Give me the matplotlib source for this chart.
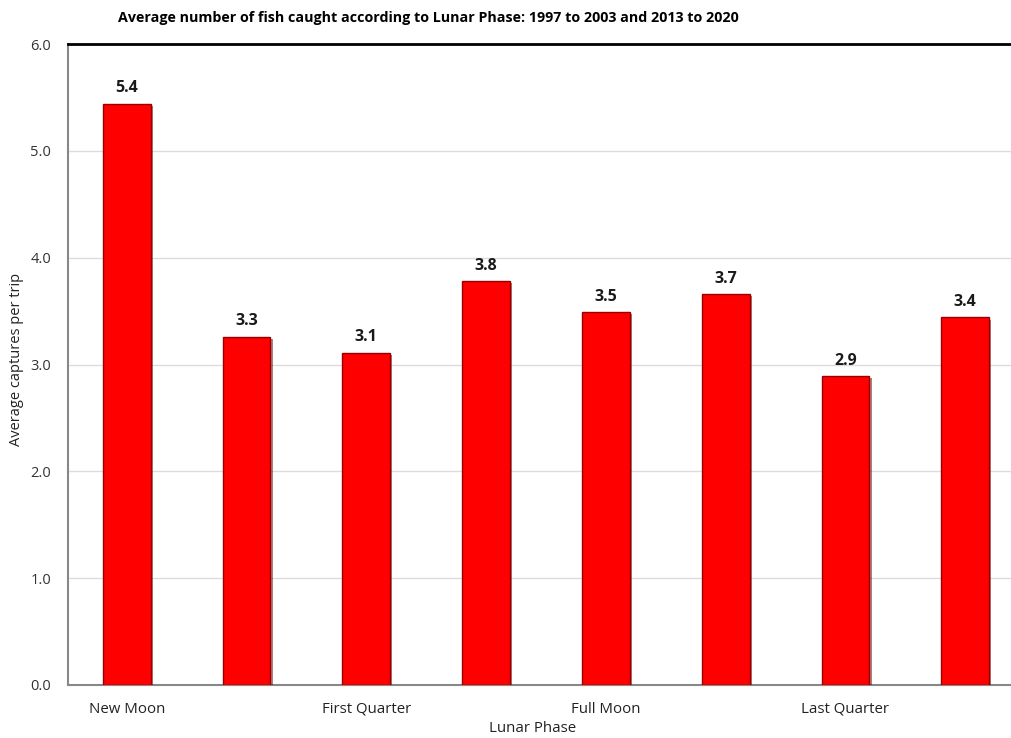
import matplotlib.pyplot as plt
import matplotlib.patheffects as pe
import numpy as np

plt.rcParams['font.family'] = ['Open Sans', 'DejaVu Sans']

phases = ['New Moon', '', 'First Quarter', '', 'Full Moon', '', 'Last Quarter', '']
captures = [5.44, 3.26, 3.11, 3.78, 3.49, 3.66, 2.89, 3.44]
yticks = [0.0, 1.0, 2.0, 3.0, 4.0, 5.0, 6.0]

fig = plt.figure(figsize=(10.12, 7.38), dpi=100)
ax = fig.add_axes([68 / 1012, 53 / 738, 1 - 68 / 1012, 641 / 738])

x = np.arange(len(captures))
bars = ax.bar(x, captures, width=0.40, color='#ff0000', edgecolor='#9a0000',
              linewidth=1.0, zorder=3)
for b in bars:
    b.set_path_effects([pe.SimplePatchShadow(offset=(1.5, -1.5), shadow_rgbFace='#600000', alpha=0.5),
                        pe.Normal()])

for xi, v in zip(x, captures):
    ax.text(xi, v + 0.07, f'{v:.1f}', ha='center', va='bottom',
            fontsize=11.5, fontweight='bold', color='#1a1a1a')

ax.set_xlim(-0.49, 7.39)
ax.set_ylim(0, 6)
ax.set_yticks(yticks)
ax.set_yticklabels([f'{t:.1f}' for t in yticks], fontsize=10.5, color='#333333')
ax.set_xticks(x)
ax.set_xticklabels(phases, fontsize=10.8, color='#222222')
ax.tick_params(axis='x', length=0, pad=12)
ax.tick_params(axis='y', length=0, pad=12)

ax.yaxis.grid(True, color='#dcdcdc', linewidth=1, zorder=0)
ax.set_axisbelow(True)

ax.spines['right'].set_visible(False)
ax.spines['top'].set_color('black')
ax.spines['top'].set_linewidth(2)
ax.spines['left'].set_color('#888888')
ax.spines['left'].set_linewidth(1.5)
ax.spines['bottom'].set_color('#888888')
ax.spines['bottom'].set_linewidth(1.5)

fig.text(17 / 1012, 1 - 359 / 738, 'Average captures per trip', rotation=90,
         ha='center', va='center', fontsize=10.5, color='#222222')
fig.text(533 / 1012, 1 - 729 / 738, 'Lunar Phase', ha='center', va='center',
         fontsize=10.8, color='#222222')
fig.text(428 / 1012, 1 - 18 / 738,
         'Average number of fish caught according to Lunar Phase: 1997 to 2003 and 2013 to 2020',
         ha='center', va='center', fontsize=10.3, fontweight='bold', color='black')

fig.savefig('out.png', dpi=100)
